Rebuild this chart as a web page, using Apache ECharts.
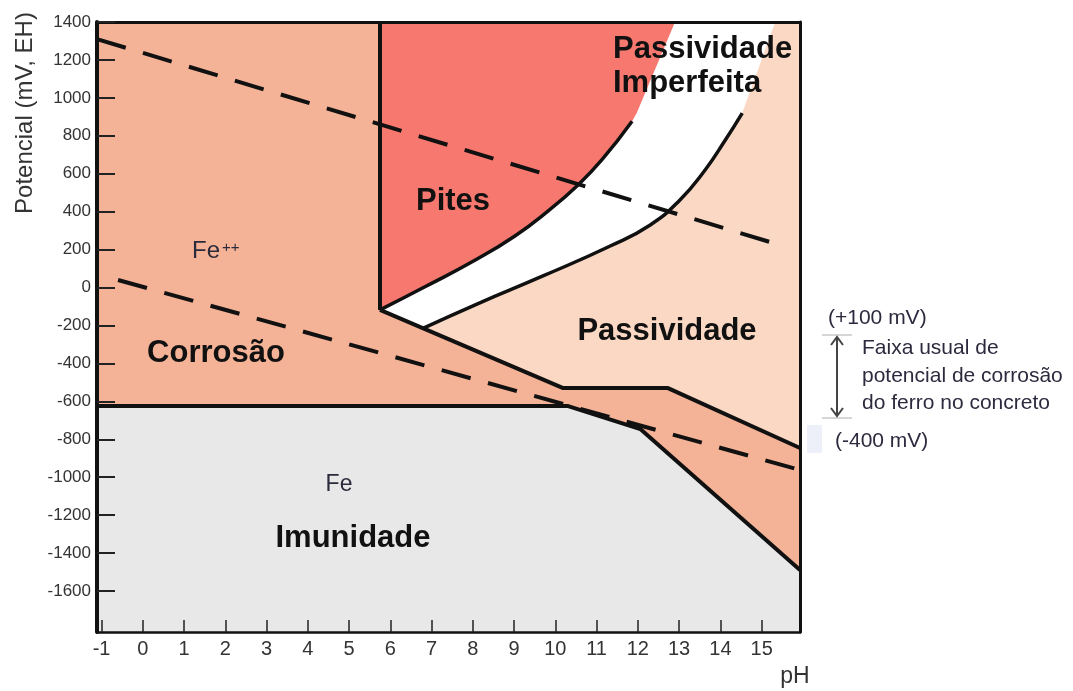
<!DOCTYPE html>
<html>
<head>
<meta charset="utf-8">
<script src="https://cdn.jsdelivr.net/npm/echarts@6/dist/echarts.min.js"></script>
<style>
html,body{margin:0;padding:0;background:#fff;}
#chart{width:1073px;height:691px;}
</style>
</head>
<body>
<div id="chart"></div>
<script>
// ---------- data (pH, potential mV vs EH) ----------
const xTicks = [-1,0,1,2,3,4,5,6,7,8,9,10,11,12,13,14,15];
const yTicks = [1400,1200,1000,800,600,400,200,0,-200,-400,-600,-800,-1000,-1200,-1400,-1600];
const xRange = [-1.11, 15.93];
const yRange = [-1816, 1400];

// pitting potential: vertical boundary and curved boundary
const pitVertical = [[5.75,1400],[5.75,-118]];
const pitCurve = [[5.75,-118],[6.84,4],[8.06,145],[9.02,272],[9.82,403],[10.55,541],[11.13,674],[11.86,877]];
const pitCurveTop = [[11.97,919],[12.90,1400]];
// imperfect passivity / passivity boundary
const passCurve = [[6.79,-215],[8.10,-87],[9.70,61],[11.33,219],[12.30,330],[13.02,462],[13.63,620],[14.12,778],[14.53,920]];
const passCurveTop = [[15.33,1400]];
// Fe++ / oxide boundary
const oxideLine = [[5.75,-118],[10.19,-530],[12.73,-530],[15.93,-846]];
// immunity boundary
const immunityLine = [[-1.11,-625],[10.31,-625],[12.06,-746],[15.93,-1489]];
// water stability lines (dashed)
const waterUpper = [[-1.11,1310],[15.45,224]];
const waterLower = [[-0.60,40],[15.93,-962]];

// ---------- region polygons built from boundaries ----------
const immunityPoly = immunityLine.concat([[15.93,-1816],[-1.11,-1816]]);
const passivePoly = oxideLine.concat([[15.93,1400],[5.75,1400]]);
const whitePoly = [[5.75,-118]].concat(passCurve, passCurveTop, [[5.75,1400]]);
const pitPoly = pitCurve.concat(pitCurveTop, [[5.75,1400]]);

const C_CORR = '#F4B296', C_PIT = '#F7786E', C_PASS = '#FAD8C4', C_IMM = '#E8E8E8', C_WHITE = '#FFFFFF';

function polySeries(name, pts, color, z) {
  return {
    type: 'custom', name: name, data: pts, z: z, silent: true,
    encode: {x: 0, y: 1},
    renderItem: function (params, api) {
      if (params.dataIndex !== 0) return null;
      return {
        type: 'polygon',
        shape: {points: pts.map(function (p) { return api.coord(p); })},
        style: {fill: color, stroke: null}
      };
    }
  };
}
function lineSeries(name, pts, width, smooth, dash) {
  return {
    type: 'line', name: name, data: pts, symbol: 'none', silent: true, z: dash ? 4 : 5,
    smooth: smooth ? 0.5 : false,
    lineStyle: {color: '#111', width: width, type: dash || 'solid', cap: 'butt', join: 'round'}
  };
}

const chart = echarts.init(document.getElementById('chart'), null, {renderer: 'canvas'});
const FONT = 'Liberation Sans, Arial, sans-serif';

chart.setOption({
  animation: false,
  backgroundColor: '#fff',
  grid: {left: 97, right: 273, top: 22, bottom: 59, show: true, backgroundColor: C_CORR, borderWidth: 0},
  xAxis: [{
    type: 'value', min: xRange[0], max: xRange[1], position: 'bottom', z: 10,
    axisLine: {show: true, onZero: false, lineStyle: {color: '#111', width: 2.5}},
    axisTick: {show: true, inside: true, length: 12, customValues: xTicks, lineStyle: {color: '#222', width: 1.5}},
    axisLabel: {show: true, customValues: xTicks, fontSize: 20, color: '#333', margin: 7, fontFamily: FONT,
      formatter: function (v) { return String(v); }},
    splitLine: {show: false}
  }, {
    type: 'value', min: xRange[0], max: xRange[1], position: 'top', z: 10,
    axisLine: {show: true, onZero: false, lineStyle: {color: '#111', width: 3}},
    axisTick: {show: false}, axisLabel: {show: false}, splitLine: {show: false}
  }],
  yAxis: [{
    type: 'value', min: yRange[0], max: yRange[1], position: 'left', z: 10,
    axisLine: {show: true, onZero: false, lineStyle: {color: '#111', width: 4}},
    axisTick: {show: true, inside: true, length: 18, customValues: yTicks, lineStyle: {color: '#222', width: 2}},
    axisLabel: {show: true, customValues: yTicks, fontSize: 17, color: '#333', margin: 6,
      fontFamily: FONT, formatter: function (v) { return String(v); }},
    splitLine: {show: false}
  }, {
    type: 'value', min: yRange[0], max: yRange[1], position: 'right', z: 10,
    axisLine: {show: true, onZero: false, lineStyle: {color: '#111', width: 3}},
    axisTick: {show: false}, axisLabel: {show: false}, splitLine: {show: false}
  }],
  series: [
    polySeries('Imunidade', immunityPoly, C_IMM, 1),
    polySeries('Passividade', passivePoly, C_PASS, 1),
    polySeries('Passividade Imperfeita', whitePoly, C_WHITE, 2),
    polySeries('Pites', pitPoly, C_PIT, 3),
    lineSeries('waterUpper', waterUpper, 4, false, [30, 18]),
    lineSeries('waterLower', waterLower, 4, false, [30, 18]),
    lineSeries('pitVertical', pitVertical, 4, false),
    lineSeries('pitCurve', pitCurve, 3.5, true),
    lineSeries('passCurve', passCurve, 3.5, true),
    lineSeries('oxideLine', oxideLine, 4, false),
    lineSeries('immunityLine', immunityLine, 4, false)
  ],
  graphic: [
    {type: 'text', z: 100, x: 25, y: 113, rotation: Math.PI / 2,
      style: {text: 'Potencial (mV, EH)', font: '24px ' + FONT, fill: '#333', textAlign: 'center', textVerticalAlign: 'middle'}},
    {type: 'text', z: 100, x: 795, y: 677,
      style: {text: 'pH', font: '23px ' + FONT, fill: '#333', textAlign: 'center', textVerticalAlign: 'middle'}},
    {type: 'text', z: 100, x: 192, y: 251,
      style: {text: 'Fe', font: '24px ' + FONT, fill: '#2a2a3a', textAlign: 'left', textVerticalAlign: 'middle'}},
    {type: 'text', z: 100, x: 222, y: 248,
      style: {text: '++', font: '15px ' + FONT, fill: '#2a2a3a', textAlign: 'left', textVerticalAlign: 'middle'}},
    {type: 'text', z: 100, x: 216, y: 353,
      style: {text: 'Corrosão', font: 'bold 31px ' + FONT, fill: '#111', textAlign: 'center', textVerticalAlign: 'middle'}},
    {type: 'text', z: 100, x: 453, y: 201,
      style: {text: 'Pites', font: 'bold 31px ' + FONT, fill: '#111', textAlign: 'center', textVerticalAlign: 'middle'}},
    {type: 'text', z: 100, x: 667, y: 331,
      style: {text: 'Passividade', font: 'bold 31px ' + FONT, fill: '#111', textAlign: 'center', textVerticalAlign: 'middle'}},
    {type: 'text', z: 100, x: 613, y: 49,
      style: {text: 'Passividade', font: 'bold 31px ' + FONT, fill: '#111', textAlign: 'left', textVerticalAlign: 'middle'}},
    {type: 'text', z: 100, x: 613, y: 83,
      style: {text: 'Imperfeita', font: 'bold 31px ' + FONT, fill: '#111', textAlign: 'left', textVerticalAlign: 'middle'}},
    {type: 'text', z: 100, x: 339, y: 485,
      style: {text: 'Fe', font: '23px ' + FONT, fill: '#2a2a3a', textAlign: 'center', textVerticalAlign: 'middle'}},
    {type: 'text', z: 100, x: 353, y: 538,
      style: {text: 'Imunidade', font: 'bold 31px ' + FONT, fill: '#111', textAlign: 'center', textVerticalAlign: 'middle'}},
    // right-side annotation
    {type: 'rect', z: 90, shape: {x: 807, y: 425, width: 15, height: 28}, style: {fill: '#EDF0F8'}},
    {type: 'line', z: 95, shape: {x1: 822, y1: 335, x2: 852, y2: 335}, style: {stroke: '#c8c8c8', lineWidth: 1.5}},
    {type: 'line', z: 95, shape: {x1: 822, y1: 418, x2: 852, y2: 418}, style: {stroke: '#c8c8c8', lineWidth: 1.5}},
    {type: 'line', z: 96, shape: {x1: 837, y1: 337, x2: 837, y2: 416}, style: {stroke: '#444', lineWidth: 2}},
    {type: 'polyline', z: 96, shape: {points: [[831, 345], [837, 337], [843, 345]]}, style: {stroke: '#444', lineWidth: 2, fill: null}},
    {type: 'polyline', z: 96, shape: {points: [[831, 408], [837, 416], [843, 408]]}, style: {stroke: '#444', lineWidth: 2, fill: null}},
    {type: 'text', z: 100, x: 828, y: 318,
      style: {text: '(+100 mV)', font: '21px ' + FONT, fill: '#2d2a3e', textAlign: 'left', textVerticalAlign: 'middle'}},
    {type: 'text', z: 100, x: 862, y: 348,
      style: {text: 'Faixa usual de', font: '21px ' + FONT, fill: '#2d2a3e', textAlign: 'left', textVerticalAlign: 'middle'}},
    {type: 'text', z: 100, x: 862, y: 376,
      style: {text: 'potencial de corrosão', font: '21px ' + FONT, fill: '#2d2a3e', textAlign: 'left', textVerticalAlign: 'middle'}},
    {type: 'text', z: 100, x: 862, y: 403,
      style: {text: 'do ferro no concreto', font: '21px ' + FONT, fill: '#2d2a3e', textAlign: 'left', textVerticalAlign: 'middle'}},
    {type: 'text', z: 100, x: 835, y: 441,
      style: {text: '(-400 mV)', font: '21px ' + FONT, fill: '#2d2a3e', textAlign: 'left', textVerticalAlign: 'middle'}}
  ]
});
</script>
</body>
</html>
